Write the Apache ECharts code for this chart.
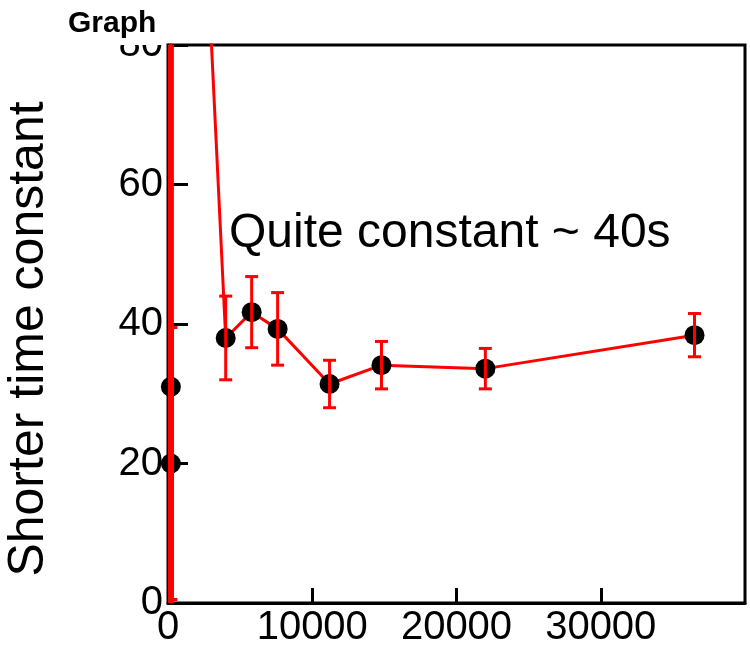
<!DOCTYPE html>
<html><head><meta charset="utf-8">
<script src="https://cdn.jsdelivr.net/npm/echarts@6/dist/echarts.min.js"></script>
<style>html,body{margin:0;padding:0;background:#fff}#c{width:750px;height:648px}</style>
</head><body><div id="c"></div>
<script>
// measured points (x, value, symmetric error)
const xPoints = [200, 200, 4000, 5800, 7600, 11200, 14800, 22000, 36500];
const yPoints = [31, 20, 38, 41.7, 39.3, 31.4, 34.1, 33.6, 38.4];
const yErrors = [100, 19.5, 6, 5.1, 5.2, 3.4, 3.4, 2.9, 3.1];
// connecting line of the graph (one point lies far above the visible range)
const lineX = [200, 200, 200, 4000, 5800, 7600, 11200, 14800, 22000, 36500];
const lineY = [31, 20, 200, 38, 41.7, 39.3, 31.4, 34.1, 33.6, 38.4];
const xTicks = [0, 10000, 20000, 30000, 40000];
const yTicks = [0, 20, 40, 60, 80];
const titleText = 'Graph';
const yTitle = 'Shorter time constant';
const note = 'Quite constant ~ 40s';

const FONT = 'Liberation Sans, Arial, Helvetica, sans-serif';
const chart = echarts.init(document.getElementById('c'), null, {renderer: 'canvas'});
const RED = '#ff0000';

chart.setOption({
  animation: false,
  backgroundColor: '#ffffff',
  grid: {left: 168, top: 45, right: 5, bottom: 43, show: true, borderColor: '#000', borderWidth: 3, backgroundColor: 'transparent'},
  xAxis: {
    type: 'value',
    min: xTicks[0], max: xTicks[xTicks.length - 1], interval: xTicks[1] - xTicks[0],
    axisLine: {show: true, onZero: false, lineStyle: {color: '#000', width: 3}},
    axisTick: {show: true, inside: true, length: 15, lineStyle: {color: '#000', width: 3}},
    axisLabel: {show: true, showMaxLabel: false, margin: 5, fontSize: 40, color: '#000', fontFamily: FONT,
      formatter: function (v) { return String(v); }},
    splitLine: {show: false}
  },
  yAxis: {
    type: 'value',
    min: yTicks[0], max: yTicks[yTicks.length - 1], interval: yTicks[1] - yTicks[0],
    axisLine: {show: true, onZero: false, lineStyle: {color: '#000', width: 3}},
    axisTick: {show: true, inside: true, length: 20, lineStyle: {color: '#000', width: 3}},
    axisLabel: {show: true, margin: 5, fontSize: 40, color: '#000', fontFamily: FONT,
      formatter: function (v) { return String(v); }},
    splitLine: {show: false}
  },
  graphic: [
    {type: 'rect', z: 100, shape: {x: 55, y: 0, width: 109, height: 45}, style: {fill: '#fff'}},
    {type: 'text', z: 101, x: 68, y: 24, style: {text: titleText, font: 'bold 30px ' + FONT, fill: '#000', align: 'left', verticalAlign: 'middle', textAlign: 'left', textVerticalAlign: 'middle'}},
    {type: 'text', z: 101, x: 29, y: 339, rotation: Math.PI / 2, style: {text: yTitle, font: '50px ' + FONT, fill: '#000', align: 'center', verticalAlign: 'middle', textAlign: 'center', textVerticalAlign: 'middle'}},
    {type: 'text', z: 101, x: 229, y: 234, style: {text: note, font: '48px ' + FONT, fill: '#000', align: 'left', verticalAlign: 'middle', textAlign: 'left', textVerticalAlign: 'middle'}}
  ],
  series: [
    {
      type: 'line', z: 2, clip: true, showSymbol: false, symbol: 'none',
      data: lineX.map((x, i) => [x, lineY[i]]),
      lineStyle: {color: RED, width: 3}
    },
    {
      type: 'scatter', z: 3, symbol: 'circle', symbolSize: 20,
      data: xPoints.map((x, i) => [x, yPoints[i]]),
      itemStyle: {color: '#000', opacity: 1}
    },
    {
      type: 'custom', z: 4, clip: true,
      data: xPoints.map((x, i) => [x, yPoints[i], yErrors[i]]),
      encode: {x: 0, y: 1},
      renderItem: function (params, api) {
        const x = api.value(0), y = api.value(1), e = api.value(2);
        const top = api.coord([x, y + e]);
        const bot = api.coord([x, y - e]);
        const hw = 6.5;
        // bars stacked at the origin look heavier in the original
        const st = {stroke: RED, lineWidth: x < 1000 ? 6 : 3};
        const cap = {stroke: RED, lineWidth: 3};
        return {type: 'group', children: [
          {type: 'line', shape: {x1: top[0], y1: top[1], x2: bot[0], y2: bot[1]}, style: st},
          {type: 'line', shape: {x1: top[0] - hw, y1: top[1], x2: top[0] + hw, y2: top[1]}, style: cap},
          {type: 'line', shape: {x1: bot[0] - hw, y1: bot[1], x2: bot[0] + hw, y2: bot[1]}, style: cap}
        ]};
      }
    }
  ]
});
</script></body></html>
